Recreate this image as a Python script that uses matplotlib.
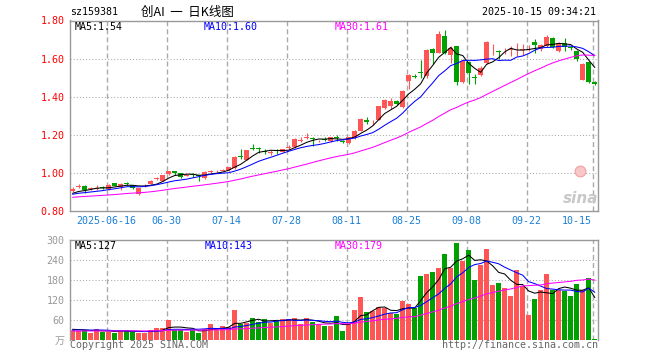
import matplotlib
matplotlib.use("Agg")
import matplotlib.pyplot as plt
import numpy as np
import pandas as pd

plt.rcParams['font.family'] = ['DejaVu Sans Mono', 'Noto Sans CJK SC']

# --- daily candles, 88 sessions (2025-06-06 .. 2025-10-15) ---
opens = [0.905, 0.925, 0.932, 0.915, 0.917, 0.925, 0.916, 0.946, 0.925, 0.946,
         0.935, 0.890, 0.928, 0.942, 0.968, 0.960, 0.993, 1.008, 0.998, 0.986,
         0.993, 0.987, 0.972, 1.004, 1.008, 1.012, 1.016, 1.025, 1.088, 1.070,
         1.130, 1.130, 1.115, 1.107, 1.117, 1.112, 1.130, 1.135, 1.170, 1.184,
         1.182, 1.166, 1.178, 1.165, 1.185, 1.167, 1.156, 1.183, 1.221, 1.277,
         1.270, 1.279, 1.340, 1.349, 1.379, 1.344, 1.484, 1.510, 1.530, 1.507,
         1.652, 1.630, 1.717, 1.620, 1.665, 1.475, 1.580, 1.505, 1.515, 1.575,
         1.648, 1.642, 1.643, 1.646, 1.638, 1.643, 1.648, 1.686, 1.648, 1.665,
         1.708, 1.642, 1.682, 1.660, 1.640, 1.490, 1.580, 1.477]
closes = [0.915, 0.932, 0.912, 0.919, 0.921, 0.921, 0.937, 0.933, 0.941, 0.944,
          0.920, 0.920, 0.932, 0.960, 0.973, 0.988, 1.010, 1.000, 0.980, 0.989,
          0.987, 0.982, 1.005, 1.008, 1.011, 1.016, 1.030, 1.086, 1.083, 1.120,
          1.126, 1.126, 1.112, 1.110, 1.114, 1.126, 1.134, 1.180, 1.174, 1.188,
          1.178, 1.170, 1.175, 1.189, 1.182, 1.164, 1.186, 1.221, 1.284, 1.268,
          1.275, 1.349, 1.383, 1.379, 1.363, 1.432, 1.516, 1.505, 1.523, 1.647,
          1.630, 1.730, 1.630, 1.656, 1.475, 1.590, 1.525, 1.498, 1.553, 1.686,
          1.652, 1.636, 1.647, 1.650, 1.642, 1.648, 1.652, 1.674, 1.672, 1.714,
          1.660, 1.680, 1.660, 1.655, 1.598, 1.572, 1.477, 1.468]
highs = [0.925, 0.942, 0.935, 0.925, 0.937, 0.930, 0.940, 0.947, 0.945, 0.952,
         0.937, 0.922, 0.940, 0.962, 0.980, 0.990, 1.012, 1.012, 1.000, 0.995,
         0.998, 0.990, 1.008, 1.015, 1.017, 1.022, 1.033, 1.088, 1.124, 1.122,
         1.150, 1.135, 1.126, 1.120, 1.126, 1.128, 1.145, 1.182, 1.188, 1.210,
         1.190, 1.175, 1.190, 1.190, 1.200, 1.172, 1.188, 1.224, 1.287, 1.296,
         1.280, 1.351, 1.390, 1.392, 1.385, 1.434, 1.518, 1.520, 1.595, 1.650,
         1.655, 1.745, 1.750, 1.666, 1.665, 1.600, 1.590, 1.520, 1.560, 1.695,
         1.675, 1.645, 1.655, 1.665, 1.680, 1.675, 1.670, 1.705, 1.675, 1.725,
         1.712, 1.685, 1.710, 1.665, 1.645, 1.575, 1.585, 1.480]
lows = [0.900, 0.920, 0.896, 0.910, 0.908, 0.915, 0.912, 0.930, 0.912, 0.938,
        0.915, 0.885, 0.925, 0.940, 0.962, 0.958, 0.990, 0.990, 0.975, 0.982,
        0.980, 0.955, 0.968, 1.000, 1.004, 1.010, 1.012, 1.022, 1.075, 1.068,
        1.120, 1.105, 1.100, 1.092, 1.100, 1.110, 1.120, 1.132, 1.160, 1.178,
        1.140, 1.160, 1.165, 1.162, 1.165, 1.155, 1.152, 1.180, 1.218, 1.258,
        1.250, 1.276, 1.338, 1.335, 1.355, 1.340, 1.442, 1.498, 1.500, 1.500,
        1.570, 1.628, 1.625, 1.575, 1.460, 1.470, 1.465, 1.465, 1.510, 1.570,
        1.620, 1.600, 1.625, 1.615, 1.615, 1.620, 1.640, 1.630, 1.640, 1.660,
        1.655, 1.635, 1.640, 1.645, 1.585, 1.487, 1.470, 1.460]
volumes = [30, 27, 30, 22, 34, 25, 25, 22, 30, 30,
           23, 22, 22, 30, 37, 37, 60, 30, 30, 25,
           30, 22, 32, 48, 30, 42, 40, 90, 48, 52,
           66, 55, 63, 52, 58, 63, 63, 67, 48, 65,
           54, 48, 42, 43, 72, 27, 48, 90, 129, 84,
           88, 99, 95, 80, 79, 117, 108, 95, 192, 198,
           204, 216, 258, 216, 291, 237, 270, 180, 225, 273,
           165, 171, 156, 132, 210, 162, 75, 123, 150, 198,
           150, 150, 147, 132, 168, 150, 186, 3]

# sessions before the visible window (only feed the moving averages)
pre_close = [0.855, 0.858, 0.862, 0.860, 0.866, 0.870, 0.868, 0.864, 0.859, 0.861,
             0.865, 0.869, 0.866, 0.862, 0.860, 0.863, 0.867, 0.870, 0.868, 0.865,
             0.878, 0.882, 0.885, 0.884, 0.886, 0.884, 0.889, 0.890, 0.887]
pre_vol = [24, 27, 25, 22, 28, 26, 24, 27, 25, 23, 26, 28, 25, 24, 27, 26, 25, 24,
           26, 25, 27, 30, 26, 29, 28, 31, 35, 30, 34]

date_labels = ['2025-06-16', '06-30', '07-14', '07-28', '08-11', '08-25', '09-08', '09-22', '10-15']
date_idx = [6, 16, 26, 36, 46, 56, 66, 76, 87]
price_ticks = [0.8, 1.0, 1.2, 1.4, 1.6, 1.8]
vol_ticks = [0, 60, 120, 180, 240, 300]
vol_tick_labels = ['万', '60', '120', '180', '240', '300']

RED = '#ff5555'
GREEN = '#00a000'
GRID = '#aaaaaa'
W, H = 660, 360


def box(l, t, r, b):
    return [l / W, 1 - b / H, (r - l) / W, (b - t) / H]


def ftext(x, y, s, **kw):
    kw.setdefault('va', 'center')
    kw.setdefault('fontsize', 7.2)
    fig.text(x / W, 1 - y / H, s, **kw)


def ma(pre, vals, n):
    s = pd.Series(pre + vals, dtype=float).rolling(n, min_periods=1).mean()
    return s.values[len(pre):]


n = len(closes)
x = np.arange(n)
o, c, h, l = map(np.array, (opens, closes, highs, lows))
up = c >= o
cols = np.where(up, RED, GREEN)

fig = plt.figure(figsize=(6.6, 3.6), dpi=100)
axp = fig.add_axes(box(70, 20.5, 598, 211))
axv = fig.add_axes(box(70, 240, 598, 340))

for ax in (axp, axv):
    ax.set_xlim(-0.45, n - 0.45)
    ax.set_xticks([])
    for sp in ax.spines.values():
        sp.set_color('#999999')
        sp.set_linewidth(1)
    for i in date_idx:
        ax.axvline(i - 0.33, color=GRID, lw=1.0, ls=(0, (3.6, 2.2)), zorder=0)
axv.spines['bottom'].set_visible(False)

# price panel
axp.set_ylim(0.8, 1.8)
for v in price_ticks[1:-1]:
    axp.axhline(v, color=GRID, lw=0.75, ls=(0, (1, 2)), zorder=0)
axp.vlines(x, l, h, colors=cols, lw=0.8, zorder=2)
body = np.maximum(np.abs(c - o), 0.004)
axp.bar(x, body, bottom=np.minimum(o, c), width=0.83, color=cols, lw=0, zorder=3)
axp.plot(x, ma(pre_close, closes, 5), color='black', lw=0.75, zorder=4)
axp.plot(x, ma(pre_close, closes, 10), color='blue', lw=0.75, zorder=4)
axp.plot(x, ma(pre_close, closes, 30), color='#ff00ff', lw=0.75, zorder=4)
axp.set_yticks(price_ticks)
axp.set_yticklabels(['%.2f' % v for v in price_ticks])
axp.tick_params(axis='y', length=0, pad=4, labelsize=7.2, labelcolor='red')

# volume panel
axv.set_ylim(0, 300)
for v in vol_ticks[1:-1]:
    axv.axhline(v, color=GRID, lw=0.75, ls=(0, (1, 2)), zorder=0)
axv.bar(x, volumes, width=0.83, color=cols, lw=0, zorder=2)
axv.plot(x, ma(pre_vol, volumes, 5), color='black', lw=0.75, zorder=4)
axv.plot(x, ma(pre_vol, volumes, 10), color='blue', lw=0.75, zorder=4)
axv.plot(x, ma(pre_vol, volumes, 30), color='#ff00ff', lw=0.75, zorder=4)
axv.set_yticks(vol_ticks)
axv.set_yticklabels(vol_tick_labels)
axv.tick_params(axis='y', length=0, pad=4, labelsize=7.2, labelcolor='#999999')

# date labels
for i, s in zip(date_idx, date_labels):
    px = 72.7 + 6 * i - 2
    if i == date_idx[-1]:
        ftext(px - 1, 221.5, s, ha='right', color='#1a7fd6')
    else:
        ftext(px, 221.5, s, ha='center', color='#1a7fd6')

# header
ftext(70, 12, 'sz159381', ha='left', color='black')
ftext(141, 12, '创AI  一  日K线图', ha='left', color='black', fontsize=9,
      family=['Noto Sans CJK SC', 'DejaVu Sans'])
ftext(596, 12, '2025-10-15 09:34:21', ha='right', color='black')

# MA legends
ftext(75, 26.5, 'MA5:1.54', ha='left', color='black')
ftext(204, 26.5, 'MA10:1.60', ha='left', color='blue')
ftext(335, 26.5, 'MA30:1.61', ha='left', color='#ff00ff')
ftext(75, 245.7, 'MA5:127', ha='left', color='black')
ftext(205, 245.7, 'MA10:143', ha='left', color='blue')
ftext(335, 245.7, 'MA30:179', ha='left', color='#ff00ff')

# watermark and footer
ftext(581, 198, 'sina', ha='center', color='#c8c8c8', fontsize=11,
      fontstyle='italic', fontweight='bold', family='DejaVu Sans')
axp.scatter([0.965], [0.21], s=60, transform=axp.transAxes,
            facecolor='#f8c8c8', edgecolor='#f0a0a0', lw=0.8, zorder=1)
ftext(70, 345.5, 'Copyright 2025 SINA.COM', ha='left', color='#666666')
ftext(598, 345.5, 'http://finance.sina.com.cn', ha='right', color='#666666')

fig.savefig('out.png', dpi=100)
